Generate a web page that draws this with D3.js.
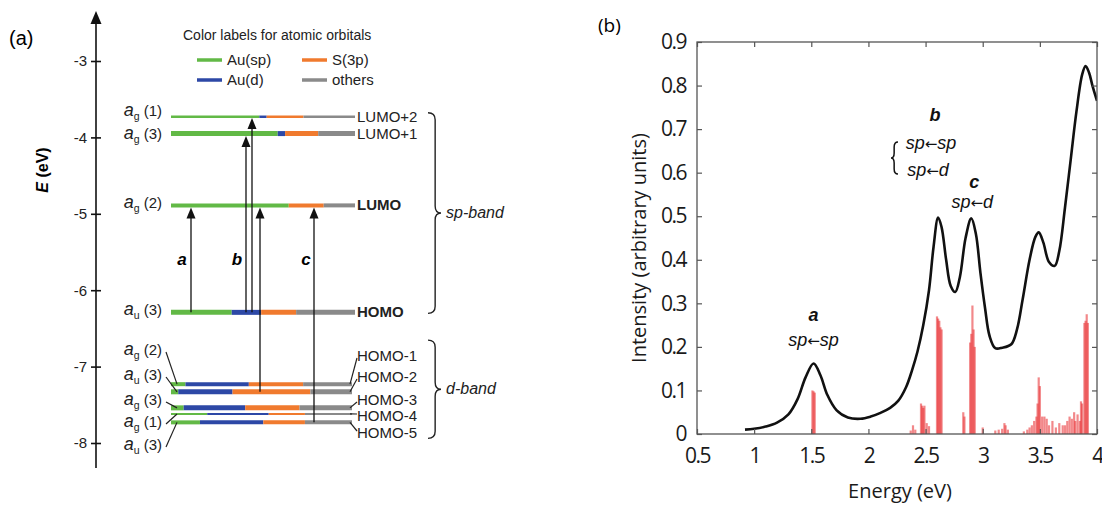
<!DOCTYPE html>
<html><head><meta charset="utf-8">
<script src="https://cdn.jsdelivr.net/npm/d3@7"></script>
<style>body{margin:0;background:#fff}svg{display:block}</style>
</head><body>
<svg id="c" width="1102" height="506"></svg>
<script>
// ================= DATA: panel (a) =================
const axisTicksA = [-3, -4, -5, -6, -7, -8];
const levelNames = ["LUMO+2","LUMO+1","LUMO","HOMO","HOMO-1","HOMO-2","HOMO-3","HOMO-4","HOMO-5"];
const levelSym   = ["g","g","g","u","g","u","g","g","u"];
const levelIdx   = ["1","3","2","3","2","3","3","1","3"];
const levelEnergies = [-3.73, -3.95, -4.89, -6.29, -7.23, -7.33, -7.54, -7.62, -7.73];
const fracAuSp  = [0.48, 0.58, 0.64, 0.33, 0.08, 0.04, 0.07, 0.20, 0.16];
const fracAuD   = [0.04, 0.04, 0.00, 0.16, 0.35, 0.30, 0.34, 0.34, 0.35];
const fracS3p   = [0.20, 0.18, 0.19, 0.19, 0.30, 0.43, 0.30, 0.20, 0.23];
const fracOther = [0.28, 0.20, 0.17, 0.32, 0.27, 0.23, 0.29, 0.26, 0.26];
const orbitalNames = ["Au(sp)", "Au(d)", "S(3p)", "others"];
const transitionLabels = ["a", "b", "b", "b", "c"];
const transitionFrom = ["HOMO", "HOMO", "HOMO", "HOMO-2", "HOMO-5"];
const transitionTo   = ["LUMO", "LUMO+1", "LUMO+2", "LUMO", "LUMO"];
const bandNames = ["sp-band", "d-band"];
const bandMembers = [["LUMO+2","HOMO"], ["HOMO-1","HOMO-5"]];

// ================= DATA: panel (b) =================
const spectrumE = [0.92,1.0,1.1,1.2,1.3,1.38,1.45,1.52,1.58,1.64,1.72,1.82,1.93,2.02,2.1,2.19,2.26,2.33,2.38,2.43,2.48,2.53,2.57,2.61,2.64,2.68,2.72,2.76,2.80,2.85,2.90,2.94,2.98,3.02,3.06,3.11,3.17,3.25,3.30,3.35,3.41,3.46,3.49,3.53,3.58,3.63,3.67,3.72,3.77,3.82,3.87,3.90,3.93,3.96,4.00];
const spectrumI = [0.010,0.012,0.017,0.026,0.045,0.080,0.130,0.162,0.135,0.090,0.055,0.038,0.035,0.040,0.048,0.060,0.076,0.108,0.145,0.190,0.250,0.330,0.430,0.497,0.475,0.400,0.340,0.326,0.360,0.450,0.495,0.460,0.370,0.290,0.225,0.197,0.198,0.206,0.240,0.310,0.400,0.452,0.463,0.440,0.395,0.386,0.420,0.520,0.630,0.740,0.825,0.845,0.830,0.800,0.765];
const stickE = [1.51,1.52,1.53, 2.37,2.39,2.41,2.46,2.47,2.48,2.49,2.51,2.53, 2.60,2.61,2.62,2.63,2.64, 2.83,2.84, 2.89,2.90,2.91,2.92,2.93, 3.00, 3.11,3.14,3.17,3.19,3.20,3.22, 3.36,3.39,3.41,3.43,3.45,3.47,3.48,3.49,3.50,3.52,3.54,3.56,3.58,3.61,3.64,3.67,3.70,3.72,3.74,3.76,3.78,3.80,3.81,3.83,3.85,3.86,3.87,3.89,3.90,3.91,3.92];
const stickI = [0.10,0.098,0.095, 0.008,0.02,0.01,0.07,0.065,0.06,0.065,0.025,0.018, 0.27,0.265,0.26,0.245,0.24, 0.05,0.04, 0.21,0.23,0.295,0.24,0.20, 0.015, 0.008,0.01,0.012,0.025,0.02,0.01, 0.006,0.01,0.015,0.02,0.03,0.04,0.07,0.13,0.11,0.04,0.04,0.035,0.02,0.03,0.015,0.025,0.02,0.02,0.03,0.04,0.035,0.05,0.03,0.045,0.03,0.075,0.07,0.255,0.26,0.275,0.255];
const xTicksB = [0.5, 1, 1.5, 2, 2.5, 3, 3.5, 4];
const yTicksB = [0, 0.1, 0.2, 0.3, 0.4, 0.5, 0.6, 0.7, 0.8, 0.9];
const peakLabels = ["a", "b", "c"];

// ================= LAYOUT / STYLE =================
const orbColors = ["#62b946", "#2d48a6", "#f07a2e", "#8a8a8a"];
const levelThick = [2.5, 5, 4, 5, 4, 5, 5, 2, 4];
const leftLabelY  = [113, 136, null, null, 352, 377, 402, 424, 447];
const rightLabelY = [null, null, null, null, 356, 377, 400, 416, 433];
const leftLeader  = [false, false, false, false, true, true, true, true, true];
const levelX0 = 171, levelX1 = 355, levelX1d = 352;
const transX = [191, 246, 252, 260, 314];
const transLabelX = [182, 237, null, null, 306];
const sansA = "'Liberation Sans', Arial, sans-serif";
const sansB = "'Open Sans', 'Liberation Sans', sans-serif";

const svg = d3.select("#c");
svg.append("rect").attr("width",1102).attr("height",506).attr("fill","#fff");

// ================= PANEL (a) =================
const yA = d3.scaleLinear().domain([-3, -8]).range([61, 443]);
const gA = svg.append("g");

gA.append("text").attr("x", 9).attr("y", 45).attr("font-family", sansA).attr("font-size", 20).text("(a)");

// axis
gA.append("line").attr("x1", 96).attr("x2", 96).attr("y1", 22).attr("y2", 468).attr("stroke", "#111").attr("stroke-width", 1.6);
gA.append("path").attr("d", "M96,11 L90.5,24 L101.5,24 Z").attr("fill", "#111");
const axA = d3.axisLeft(yA).tickValues(axisTicksA).tickSize(0).tickPadding(0).tickFormat(d => String(d));
const axG = gA.append("g").attr("transform", "translate(96,0)").call(axA);
axG.select(".domain").remove();
axG.selectAll(".tick").append("line").attr("x1", -5).attr("x2", 5).attr("stroke", "#111").attr("stroke-width", 1.6);
axG.selectAll(".tick text").attr("x", -9).attr("font-family", sansA).attr("font-size", 15).attr("fill", "#222");

const eLab = gA.append("text").attr("transform", "translate(48,170) rotate(-90)").attr("text-anchor", "middle")
  .attr("font-family", sansA).attr("font-size", 16).attr("font-weight", "bold");
eLab.append("tspan").attr("font-style", "italic").text("E");
eLab.append("tspan").text(" (eV)");

// legend
gA.append("text").attr("x", 183).attr("y", 40).attr("font-family", sansA).attr("font-size", 14).attr("fill","#222").text("Color labels for atomic orbitals");
const legPos = [[197, 60], [197, 80], [302, 60], [302, 80]];
orbitalNames.forEach((n, i) => {
  const [lx, ly] = legPos[i];
  gA.append("line").attr("x1", lx).attr("x2", lx + 25).attr("y1", ly).attr("y2", ly).attr("stroke", orbColors[i]).attr("stroke-width", 3.5);
  gA.append("text").attr("x", lx + 30).attr("y", ly + 5).attr("font-family", sansA).attr("font-size", 15).attr("fill","#222").text(n);
});

// levels
const levels = levelNames.map((n, i) => ({
  name: n, sym: levelSym[i], idx: levelIdx[i], E: levelEnergies[i],
  fr: [fracAuSp[i], fracAuD[i], fracS3p[i], fracOther[i]], th: levelThick[i], dband: i >= 4,
  ly: leftLabelY[i], ry: rightLabelY[i], lead: leftLeader[i]
}));
const levelY = {};
levels.forEach(l => levelY[l.name] = yA(l.E));

levels.forEach((l) => {
  const y = yA(l.E);
  const x1 = l.dband ? levelX1d : levelX1;
  const xs = d3.scaleLinear().domain([0, 1]).range([levelX0, x1]);
  let acc = 0;
  l.fr.forEach((f, k) => {
    if (f > 0) {
      gA.append("line").attr("x1", xs(acc)).attr("x2", xs(acc + f)).attr("y1", y).attr("y2", y)
        .attr("stroke", orbColors[k]).attr("stroke-width", l.th);
    }
    acc += f;
  });
  // left label
  const ly = l.ly == null ? y : l.ly;
  const t = gA.append("text").attr("x", 162).attr("y", ly + 3).attr("text-anchor", "end").attr("font-family", sansA).attr("fill", "#222");
  t.append("tspan").attr("font-size", 18).attr("font-style", "italic").text("a");
  t.append("tspan").attr("font-size", 10.5).attr("dy", 3.5).text(l.sym);
  t.append("tspan").attr("font-size", 15).attr("dy", -3.5).text(" (" + l.idx + ")");
  if (l.lead) {
    gA.append("line").attr("x1", 166).attr("y1", ly).attr("x2", 177).attr("y2", y).attr("stroke", "#222").attr("stroke-width", 1.2);
  }
  // right label
  const ry = l.ry == null ? y : l.ry;
  gA.append("text").attr("x", 357).attr("y", ry + 5).attr("font-family", sansA).attr("font-size", 15)
    .attr("font-weight", (l.name === "LUMO" || l.name === "HOMO") ? "bold" : "normal").attr("fill", "#222").text(l.name);
  if (l.ry != null && Math.abs(l.ry - y) > 2) {
    gA.append("line").attr("x1", x1 - 2).attr("y1", y).attr("x2", 357).attr("y2", ry + (ry < y ? 2 : -2)).attr("stroke", "#222").attr("stroke-width", 1.2);
  }
});

// transitions
const thickOf = {}; levels.forEach(l => thickOf[l.name] = l.th);
transitionLabels.forEach((lab, i) => {
  const x = transX[i];
  const y0 = levelY[transitionFrom[i]];
  const y1 = levelY[transitionTo[i]] + thickOf[transitionTo[i]] / 2;
  gA.append("line").attr("x1", x).attr("x2", x).attr("y1", y0).attr("y2", y1 + 9).attr("stroke", "#111").attr("stroke-width", 1.3);
  gA.append("path").attr("d", `M${x},${y1} L${x - 4.5},${y1 + 11} L${x + 4.5},${y1 + 11} Z`).attr("fill", "#111");
  if (transLabelX[i] != null) {
    gA.append("text").attr("x", transLabelX[i]).attr("y", (levelY["HOMO"] + levelY["LUMO"]) / 2 + 6)
      .attr("text-anchor", "middle").attr("font-family", sansA).attr("font-size", 17).attr("font-weight", "bold").attr("font-style", "italic").text(lab);
  }
});

// braces
function braceRight(x0, yt, yb, ym, w) {
  const xm = x0 + w * 0.55, r = 7;
  return `M${x0},${yt} Q${xm},${yt} ${xm},${yt + r} L${xm},${ym - r} Q${xm},${ym} ${x0 + w},${ym} Q${xm},${ym} ${xm},${ym + r} L${xm},${yb - r} Q${xm},${yb} ${x0},${yb}`;
}
bandNames.forEach((b, i) => {
  const yt = levelY[bandMembers[i][0]] - 4 - (i === 1 ? 40 : 0);
  const yb = levelY[bandMembers[i][1]] + (i === 1 ? 16 : 1);
  const ym = (yt + yb) / 2;
  gA.append("path").attr("d", braceRight(428, yt, yb, ym, 13)).attr("fill", "none").attr("stroke", "#222").attr("stroke-width", 1.4);
  gA.append("text").attr("x", 446).attr("y", ym + 5).attr("font-family", sansA).attr("font-size", 16).attr("font-style", "italic").attr("fill","#222").text(b);
});

// ================= PANEL (b) =================
const xB = d3.scaleLinear().domain([0.5, 4]).range([697, 1097]);
const yB = d3.scaleLinear().domain([0, 0.9]).range([434, 42]);
const gB = svg.append("g");
gB.append("text").attr("x", 598).attr("y", 32).attr("font-family", sansB).attr("font-size", 19).text("(b)");

svg.append("defs").append("clipPath").attr("id", "pb").append("rect").attr("x", 697).attr("y", 42).attr("width", 400).attr("height", 392);

// sticks
gB.append("g").attr("clip-path", "url(#pb)").selectAll("line").data(stickE).join("line")
  .attr("x1", d => xB(d)).attr("x2", d => xB(d)).attr("y1", yB(0)).attr("y2", (d, i) => yB(stickI[i]))
  .attr("stroke", "#e8262a").attr("stroke-opacity", 0.55).attr("stroke-width", 2.2);

// curve
const line = d3.line().x(d => xB(d[0])).y(d => yB(d[1])).curve(d3.curveCatmullRom.alpha(0.5));
gB.append("path").attr("clip-path", "url(#pb)").datum(spectrumE.map((e, i) => [e, spectrumI[i]]))
  .attr("d", line).attr("fill", "none").attr("stroke", "#111").attr("stroke-width", 2.6);

// frame & ticks
gB.append("rect").attr("x", 697).attr("y", 42).attr("width", 400).attr("height", 392).attr("fill", "none").attr("stroke", "#555").attr("stroke-width", 1.3);
const axB = d3.axisBottom(xB).tickValues(xTicksB).tickSize(-5).tickPadding(14).tickFormat(d3.format("~g"));
const axBt = d3.axisTop(xB).tickValues(xTicksB).tickSize(-5).tickFormat("");
const ayB = d3.axisLeft(yB).tickValues(yTicksB).tickSize(-5).tickPadding(11).tickFormat(d3.format("~g"));
const ayBr = d3.axisRight(yB).tickValues(yTicksB).tickSize(-5).tickFormat("");
[[axB, "translate(0,434)"], [axBt, "translate(0,42)"], [ayB, "translate(697,0)"], [ayBr, "translate(1097,0)"]].forEach(([a, tr]) => {
  const g = gB.append("g").attr("transform", tr).call(a);
  g.select(".domain").remove();
  g.selectAll(".tick line").attr("stroke", "#555").attr("stroke-width", 1.2);
  g.selectAll(".tick text").attr("font-family", sansB).attr("font-size", 21).attr("fill", "#1a1a1a").attr("letter-spacing", -1.5);
});

gB.append("text").attr("transform", "translate(646,248) rotate(-90)").attr("text-anchor", "middle")
  .attr("font-family", sansB).attr("font-size", 20).attr("fill", "#1a1a1a").text("Intensity (arbitrary units)");
gB.append("text").attr("x", 900).attr("y", 498).attr("text-anchor", "middle")
  .attr("font-family", sansB).attr("font-size", 20).attr("fill", "#1a1a1a").text("Energy (eV)");

// peak annotations
function ann(x, y, txt, bold) {
  const t = gB.append("text").attr("x", x).attr("y", y).attr("text-anchor", "middle").attr("font-family", sansA)
    .attr("font-size", 18).attr("font-weight", bold ? "bold" : "normal").attr("font-style", "italic").attr("fill", "#111");
  const parts = txt.split("\u2190");
  parts.forEach((p, k) => {
    if (k > 0) t.append("tspan").attr("font-family", "'DejaVu Sans', sans-serif").attr("font-style", "normal").attr("font-size", 15).text("\u2190");
    t.append("tspan").text(p);
  });
}
ann(xB(1.52), 321, peakLabels[0], true);
ann(xB(1.52), 346, "sp\u2190sp", false);
ann(xB(2.60) - 2, 121, peakLabels[1], true);
ann(xB(2.60) - 6, 149, "sp\u2190sp", false);
ann(xB(2.60) - 9, 176, "sp\u2190d", false);
ann(xB(2.90) + 3, 188, peakLabels[2], true);
ann(xB(2.90) + 1, 208, "sp\u2190d", false);
// left brace for b
(function () {
  const x0 = 898, yt = 142, yb = 174, ym = 158, w = 7, xm = x0 - w * 0.55, r = 5;
  gB.append("path").attr("d", `M${x0},${yt} Q${xm},${yt} ${xm},${yt + r} L${xm},${ym - r} Q${xm},${ym} ${x0 - w},${ym} Q${xm},${ym} ${xm},${ym + r} L${xm},${yb - r} Q${xm},${yb} ${x0},${yb}`)
    .attr("fill", "none").attr("stroke", "#111").attr("stroke-width", 1.5);
})();
</script>
</body></html>
